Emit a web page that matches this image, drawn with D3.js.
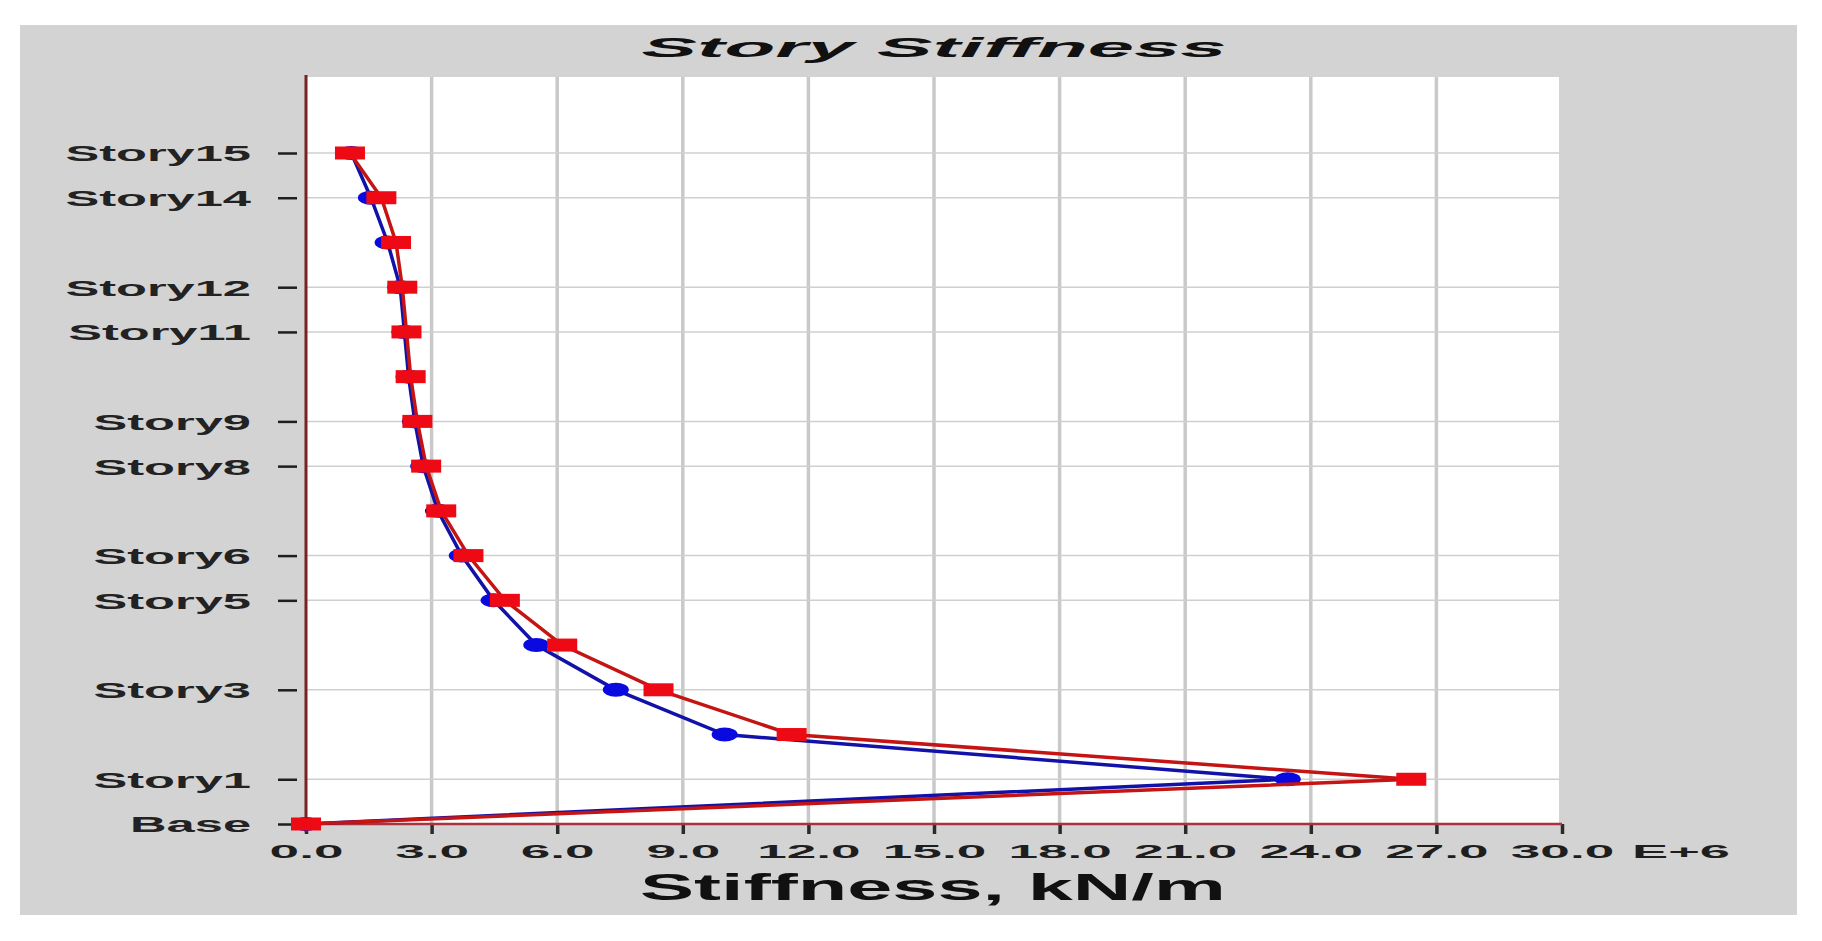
<!DOCTYPE html>
<html>
<head>
<meta charset="utf-8">
<script src="https://cdn.jsdelivr.net/npm/d3@7"></script>
<style>
  body { margin: 0; background: #fff; }
  text { font-family: "Liberation Sans", Arial, sans-serif; font-weight: bold; }
</style>
</head>
<body>
<div id="chart"></div>
<script>
// Story names, bottom to top
const stories = ["Base", "Story1", "Story2", "Story3", "Story4", "Story5", "Story6", "Story7",
  "Story8", "Story9", "Story10", "Story11", "Story12", "Story13", "Story14", "Story15"];

// Only these get a tick, a label and a grid line
const labeledStories = ["Story15", "Story14", "Story12", "Story11", "Story9", "Story8",
  "Story6", "Story5", "Story3", "Story1", "Base"];

// Stiffness in E+6 kN/m, same order as stories
const stiffnessBlue = [0, 23.45, 10.0, 7.4, 5.5, 4.48, 3.72, 3.15, 2.8, 2.6, 2.45, 2.35, 2.25, 1.95, 1.55, 1.08];
const stiffnessRed = [0, 26.4, 11.6, 8.42, 6.12, 4.75, 3.88, 3.23, 2.87, 2.66, 2.5, 2.4, 2.3, 2.15, 1.8, 1.05];

const xTickValues = [0, 3, 6, 9, 12, 15, 18, 21, 24, 27, 30];

const W = 1822, H = 941;
const plot = { left: 306, right: 1559, top: 77, bottom: 824 };

const svg = d3.select("#chart")
  .append("svg")
  .attr("width", W)
  .attr("height", H);

// grey panel
svg.append("rect")
  .attr("x", 20).attr("y", 25)
  .attr("width", 1777).attr("height", 890)
  .style("fill", "#d3d3d3");

// white plot area
svg.append("rect")
  .attr("x", plot.left).attr("y", plot.top)
  .attr("width", plot.right - plot.left).attr("height", plot.bottom - plot.top)
  .style("fill", "#ffffff");

// Scales
const xScale = d3.scaleLinear().domain([0, 30]).range([306, 1562]);
const yScale = d3.scaleLinear().domain([0, 15]).range([824, 153]);
const idx = name => stories.indexOf(name);

// Grid lines
svg.selectAll("line.vgrid")
  .data(xTickValues.filter(d => d > 0 && d < 30))
  .enter()
  .append("line")
  .attr("class", "vgrid")
  .attr("x1", d => xScale(d)).attr("x2", d => xScale(d))
  .attr("y1", plot.top).attr("y2", plot.bottom)
  .style("stroke", "#c9c9c9")
  .style("stroke-width", 3.5);

svg.selectAll("line.hgrid")
  .data(labeledStories.filter(s => s !== "Base"))
  .enter()
  .append("line")
  .attr("class", "hgrid")
  .attr("x1", plot.left).attr("x2", plot.right)
  .attr("y1", d => yScale(idx(d))).attr("y2", d => yScale(idx(d)))
  .style("stroke", "#cfcfcf")
  .style("stroke-width", 1.5);

// X axis
const xAxis = svg.append("g")
  .attr("transform", `translate(0,${plot.bottom})`)
  .call(d3.axisBottom(xScale)
    .tickValues(xTickValues)
    .tickFormat(d3.format(".1f"))
    .tickSize(10)
    .tickPadding(24)
    .tickSizeOuter(0));
xAxis.select(".domain").remove();
xAxis.selectAll(".tick line")
  .style("stroke", "#2a2a2a")
  .style("stroke-width", 3.5);
xAxis.selectAll(".tick text")
  .attr("dy", 0)
  .style("font-size", "18px")
  .style("fill", "#1e1e1e")
  .attr("y", 34)
  .each(function () {
    const w = this.getComputedTextLength();
    d3.select(this).attr("textLength", w * 2.95).attr("lengthAdjust", "spacingAndGlyphs");
  });

svg.append("line")
  .attr("x1", plot.left).attr("x2", xScale(30))
  .attr("y1", plot.bottom).attr("y2", plot.bottom)
  .style("stroke", "#a8323e")
  .style("stroke-width", 2.5);

svg.append("text")
  .attr("x", 1632).attr("y", 858)
  .attr("textLength", 98).attr("lengthAdjust", "spacingAndGlyphs")
  .style("font-size", "18px")
  .style("fill", "#1e1e1e")
  .text("E+6");

// Y axis (ticks sit a little left of the axis line)
const yAxis = svg.append("g")
  .attr("transform", `translate(${plot.left - 9},0)`)
  .call(d3.axisLeft(yScale)
    .tickValues(labeledStories.map(idx))
    .tickFormat(i => stories[i])
    .tickSize(19)
    .tickPadding(27)
    .tickSizeOuter(0));
yAxis.select(".domain").remove();
yAxis.selectAll(".tick line")
  .style("stroke", "#1e1e1e")
  .style("stroke-width", 2.5);
yAxis.selectAll(".tick text")
  .attr("dy", "0.36em")
  .style("font-size", "22px")
  .style("fill", "#222")
  .each(function () {
    const w = this.getComputedTextLength();
    d3.select(this).attr("textLength", w * 2.3).attr("lengthAdjust", "spacingAndGlyphs");
  });

svg.append("line")
  .attr("x1", plot.left).attr("x2", plot.left)
  .attr("y1", plot.top - 2).attr("y2", plot.bottom + 8)
  .style("stroke", "#7a2222")
  .style("stroke-width", 3);

// Series lines
const line = d3.line()
  .x(d => xScale(d))
  .y((d, i) => yScale(i));

svg.append("path")
  .datum(stiffnessBlue)
  .attr("d", line)
  .style("fill", "none")
  .style("stroke", "#1212a8")
  .style("stroke-width", 3.5);

svg.selectAll("ellipse.blue")
  .data(stiffnessBlue)
  .enter()
  .append("ellipse")
  .attr("class", "blue")
  .attr("cx", d => xScale(d))
  .attr("cy", (d, i) => yScale(i))
  .attr("rx", 13).attr("ry", 7)
  .style("fill", "#0a0ae0");

svg.append("path")
  .datum(stiffnessRed)
  .attr("d", line)
  .style("fill", "none")
  .style("stroke", "#c41414")
  .style("stroke-width", 3.5);

svg.selectAll("rect.red")
  .data(stiffnessRed)
  .enter()
  .append("rect")
  .attr("class", "red")
  .attr("x", d => xScale(d) - 15)
  .attr("y", (d, i) => yScale(i) - 6.5)
  .attr("width", 30).attr("height", 13)
  .style("fill", "#ee0a14");

// Title
svg.append("text")
  .attr("x", 934).attr("y", 57)
  .attr("text-anchor", "middle")
  .attr("textLength", 585).attr("lengthAdjust", "spacingAndGlyphs")
  .style("font-size", "27px")
  .style("font-style", "italic")
  .style("fill", "#111")
  .text("Story Stiffness");

// X axis title
svg.append("text")
  .attr("x", 933).attr("y", 900)
  .attr("text-anchor", "middle")
  .attr("textLength", 586).attr("lengthAdjust", "spacingAndGlyphs")
  .style("font-size", "36px")
  .style("fill", "#111")
  .text("Stiffness, kN/m");
</script>
</body>
</html>
